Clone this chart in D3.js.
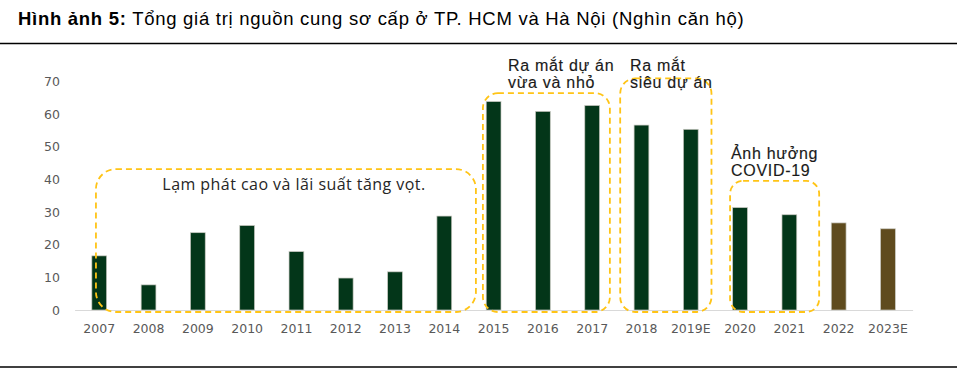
<!DOCTYPE html>
<html>
<head>
<meta charset="utf-8">
<script src="https://cdn.jsdelivr.net/npm/d3@7"></script>
<style>
  body { margin: 0; background: #fff; }
  svg { display: block; }
  .title { font-family: "Liberation Sans", Arial, sans-serif; font-size: 18.5px; fill: #000; letter-spacing: 0.72px; }
  .tick text { font-family: "DejaVu Sans", sans-serif; font-size: 12.5px; fill: #595959; }
  .note { font-family: "Liberation Sans", Arial, sans-serif; font-size: 16px; fill: #1a1a1a; letter-spacing: 0.7px; stroke: #1a1a1a; stroke-width: 0.15px; }
  .note2 { font-family: "Open Sans", sans-serif; font-size: 16px; fill: #262626; letter-spacing: 0.45px; }
</style>
</head>
<body>
<div id="chart"></div>
<script>
// data
const years = ["2007","2008","2009","2010","2011","2012","2013","2014","2015","2016","2017","2018","2019E","2020","2021","2022","2023E"];
const supply = [16.6, 7.7, 23.7, 25.9, 17.9, 9.8, 11.7, 28.8, 63.9, 60.9, 62.7, 56.7, 55.4, 31.4, 29.2, 26.7, 24.9];
const yTicks = [0, 10, 20, 30, 40, 50, 60, 70];
const olive_years = ["2022", "2023E"];

// annotation boxes: first / last category, top of box (value), label lines
const box_from = ["2007", "2015", "2018", "2020"];
const box_to = ["2014", "2017", "2019E", "2021"];
const box_top = [43.2, 66.5, 71, 39.6];
const box_labels = [
    ["Lạm phát cao và lãi suất tăng vọt."],
    ["Ra mắt dự án", "vừa và nhỏ"],
    ["Ra mắt", "siêu dự án"],
    ["Ảnh hưởng", "COVID-19"]
];

var width = 961, height = 374;
var svg = d3.select("#chart").append("svg")
    .attr("width", width)
    .attr("height", height);

// title + rules
var title = svg.append("text")
    .attr("class", "title")
    .attr("x", 18)
    .attr("y", 25);
title.append("tspan").attr("font-weight", "bold").text("Hình ảnh 5:");
title.append("tspan").text(" Tổng giá trị nguồn cung sơ cấp ở TP. HCM và Hà Nội (Nghìn căn hộ)");

svg.append("line")
    .attr("x1", 0).attr("x2", 957)
    .attr("y1", 43.5).attr("y2", 43.5)
    .attr("stroke", "#000").attr("stroke-width", 1.3);
svg.append("line")
    .attr("x1", 0).attr("x2", 957)
    .attr("y1", 367).attr("y2", 367)
    .attr("stroke", "#000").attr("stroke-width", 1.3);

// scales
var xScale = d3.scaleBand()
    .domain(years)
    .range([74.6, 912.6])
    .paddingInner(0.7)
    .paddingOuter(0.35);
var yScale = d3.scaleLinear()
    .domain([0, 70])
    .range([310, 81.7]);

// y axis (labels only)
var yAxis = svg.append("g")
    .attr("transform", "translate(60,0)")
    .call(d3.axisLeft(yScale).tickValues(yTicks).tickSize(0).tickPadding(0));
yAxis.select(".domain").remove();

// x axis
var xAxis = svg.append("g")
    .attr("transform", "translate(0," + yScale(0) + ")")
    .call(d3.axisBottom(xScale).tickSize(0).tickPadding(14));
xAxis.select(".domain")
    .attr("stroke", "#d9d9d9")
    .attr("stroke-width", 1.2);

// bars
svg.selectAll("rect.bar")
    .data(years)
    .enter()
    .append("rect")
    .attr("class", "bar")
    .attr("x", d => xScale(d))
    .attr("width", xScale.bandwidth())
    .attr("y", (d, i) => yScale(supply[i]))
    .attr("height", (d, i) => yScale(0) - yScale(supply[i]))
    .attr("fill", d => olive_years.includes(d) ? "#5f4b1e" : "#033619")
    .attr("stroke", "#c8c8c0")
    .attr("stroke-width", 0.7);

// dashed boxes, offsets from the bar centres of the first/last category
var padL = [-3.3, -10.7, -21.3, -10];
var padR = [31.6, 17.7, 20.7, 29.8];
var radius = [20, 15, 15, 13];
var centre = d => xScale(d) + xScale.bandwidth() / 2;

for (let i = 0; i < box_from.length; i++) {
    var x0 = centre(box_from[i]) + padL[i];
    var x1 = centre(box_to[i]) + padR[i];
    svg.append("rect")
        .attr("x", x0)
        .attr("y", yScale(box_top[i]))
        .attr("width", x1 - x0)
        .attr("height", yScale(0) + 2 - yScale(box_top[i]))
        .attr("rx", radius[i])
        .attr("fill", "none")
        .attr("stroke", "#ffc416")
        .attr("stroke-width", 1.8)
        .attr("stroke-dasharray", "6,4");
}

// box labels
var labelX = [294, 508, 630, 731];
var labelY = [190, 70.5, 70.5, 158.5];
for (let i = 0; i < box_labels.length; i++) {
    var t = svg.append("text")
        .attr("class", i == 0 ? "note2" : "note")
        .attr("x", labelX[i])
        .attr("y", labelY[i])
        .attr("text-anchor", i == 0 ? "middle" : "start");
    box_labels[i].forEach((line, j) => {
        t.append("tspan")
            .attr("x", labelX[i])
            .attr("dy", j == 0 ? 0 : 17.5)
            .text(line);
    });
}
</script>
</body>
</html>
